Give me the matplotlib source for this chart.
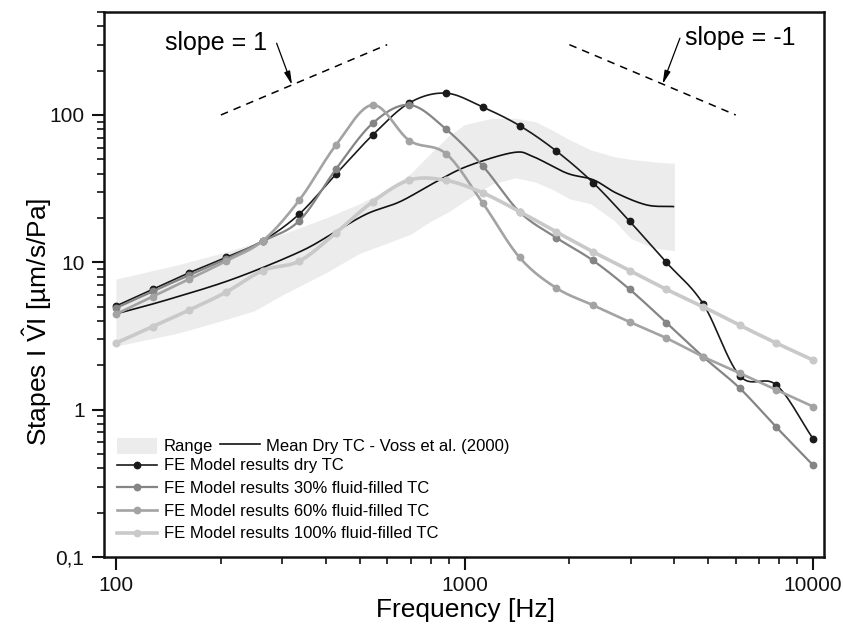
import numpy as np
import matplotlib
matplotlib.use("Agg")
import matplotlib.pyplot as plt
from matplotlib.lines import Line2D
from matplotlib.patches import Patch
from matplotlib.ticker import LogLocator, NullFormatter, FixedLocator, FixedFormatter

plt.rcParams['font.family'] = ['Liberation Sans', 'DejaVu Sans']
plt.rcParams['mathtext.fontset'] = 'custom'
plt.rcParams['mathtext.rm'] = 'Liberation Sans'

# ---------------- data ----------------
freq = [100, 127.4, 162.4, 206.9, 263.7, 336.0, 428.1, 545.6, 695.2, 885.9,
        1128.8, 1438.4, 1832.9, 2335.7, 2976.4, 3792.7, 4832.9, 6158.5, 7847.6, 10000]

dry = [5.05, 6.56, 8.5, 10.8, 14.0, 21.3, 39.8, 73.3, 121, 140.6,
       113, 84.7, 57, 34.8, 19.0, 10.0, 5.25, 1.70, 1.47, 0.635]
fluid30 = [4.9, 6.35, 8.2, 10.5, 13.9, 19.2, 43, 88, 117, 80,
           45, 22, 14.7, 10.3, 6.56, 3.90, 2.29, 1.40, 0.76, 0.42]
fluid60 = [4.45, 5.85, 7.7, 10.2, 14.0, 26.5, 62.7, 117, 67, 54.5,
           25.2, 10.8, 6.7, 5.12, 3.94, 3.06, 2.29, 1.77, 1.36, 1.05]
fluid100 = [2.83, 3.66, 4.75, 6.27, 8.79, 10.2, 15.9, 25.8, 36.2, 36.0,
            29.6, 22.1, 16.1, 11.8, 8.8, 6.56, 5.0, 3.74, 2.83, 2.17]

mean_freq = [100, 140, 217, 337, 420, 524, 653, 814, 1014, 1380, 1573,
             1965, 2343, 2735, 3335, 3975]
mean_voss = [4.47, 5.56, 7.71, 11.8, 15.8, 21.3, 25.8, 34.4, 44.7, 55.6, 52.2,
             40.3, 36.3, 29.4, 24.5, 23.9]

band_freq = [100, 150, 200, 250, 300, 400, 500, 600, 700, 800, 900, 1000,
             1200, 1400, 1600, 1800, 2000, 2300, 2700, 3000, 3500, 4000]
band_lower = [2.7, 3.3, 4.0, 4.7, 6.0, 8.5, 11.5, 13.5, 15.5, 19, 22, 26,
              34, 37.5, 35, 31, 27, 25, 19, 14.5, 12.5, 12]
band_upper = [7.7, 9.6, 11.5, 13.5, 15.5, 20, 25, 31, 40, 55, 72, 86,
              95, 95, 90, 78, 68, 58, 52, 50, 48, 47]

slope_pos = [(200, 100), (600, 300)]
slope_neg = [(2000, 300), (6000, 100)]

x_ticks = [100, 1000, 10000]
x_tick_labels = ['100', '1000', '10000']
y_ticks = [0.1, 1, 10, 100]
y_tick_labels = ['0,1', '1', '10', '100']


def smooth(xs, ys, n=24):
    """Catmull-Rom curve drawn through the data points in log-log space."""
    P = np.column_stack([np.log10(xs), np.log10(ys)])
    P = np.vstack([2 * P[0] - P[1], P, 2 * P[-1] - P[-2]])
    out = []
    t = np.linspace(0, 1, n, endpoint=False)[:, None]
    for i in range(1, len(P) - 2):
        p0, p1, p2, p3 = P[i - 1], P[i], P[i + 1], P[i + 2]
        seg = 0.5 * (2 * p1 + (-p0 + p2) * t + (2 * p0 - 5 * p1 + 4 * p2 - p3) * t ** 2
                     + (-p0 + 3 * p1 - 3 * p2 + p3) * t ** 3)
        out.append(seg)
    out.append(P[-2][None, :])
    pts = 10 ** np.vstack(out)
    return pts[:, 0], pts[:, 1]


W, H = 843, 634
fig = plt.figure(figsize=(W / 100, H / 100), dpi=100)
ax = fig.add_axes([104 / W, 1 - 557 / H, 720 / W, 545 / H])
ax.set_xscale('log')
ax.set_yscale('log')

# range band
ax.fill_between(band_freq, band_lower, band_upper, color='#ececec', lw=0, zorder=1)

# mean Voss
mx, my = smooth(mean_freq, mean_voss)
ax.plot(mx, my, color='#111111', lw=1.2, zorder=2)

series = [
    (dry, '#1a1a1a', 1.2, 4.6),
    (fluid30, '#858585', 1.6, 4.6),
    (fluid60, '#a3a3a3', 1.9, 4.6),
    (fluid100, '#c9c9c9', 2.6, 4.8),
]
for i, (vals, col, lw, ms) in enumerate(series):
    sx, sy = smooth(freq, vals)
    ax.plot(sx, sy, color=col, lw=lw, zorder=3 + i, solid_capstyle='round')
    ax.plot(freq, vals, ls='none', marker='o', ms=ms, color=col, mec=col, zorder=3 + i)

# slope guide lines
for seg in (slope_pos, slope_neg):
    ax.plot([seg[0][0], seg[1][0]], [seg[0][1], seg[1][1]], color='black',
            lw=1.1, ls=(0, (5, 4)), zorder=2)

arrow = dict(arrowstyle='-|>,head_length=0.8,head_width=0.18', color='black', lw=0.9,
             shrinkA=0, shrinkB=0)
ax.annotate('', xy=(320, 160), xytext=(289, 307), arrowprops=arrow)
ax.annotate('', xy=(3700, 162), xytext=(4150, 332), arrowprops=arrow)
ax.text(138, 308, 'slope = 1', fontsize=18, ha='left', va='center')
ax.text(4295, 334, 'slope = -1', fontsize=18, ha='left', va='center')

ax.set_xlim(92.4, 10750)
ax.set_ylim(0.1, 500)

ax.xaxis.set_major_locator(FixedLocator(x_ticks))
ax.xaxis.set_major_formatter(FixedFormatter(x_tick_labels))
ax.yaxis.set_major_locator(FixedLocator(y_ticks))
ax.yaxis.set_major_formatter(FixedFormatter(y_tick_labels))
ax.xaxis.set_minor_locator(LogLocator(base=10, subs=np.arange(2, 10)))
ax.yaxis.set_minor_locator(LogLocator(base=10, subs=np.arange(2, 10)))
ax.xaxis.set_minor_formatter(NullFormatter())
ax.yaxis.set_minor_formatter(NullFormatter())
ax.tick_params(which='major', direction='out', length=9, width=1.5, labelsize=15, pad=5,
               colors='#111111')
ax.tick_params(which='minor', direction='out', length=5, width=1.2, colors='#111111')
for sp in ax.spines.values():
    sp.set_linewidth(1.8)
    sp.set_color('#111111')

fig.text(465 / W, 1 - 610 / H, 'Frequency [Hz]', fontsize=19, ha='center', va='center')
fig.text(37 / W, 1 - 322 / H, r'Stapes I $\hat{\mathrm{V}}$I [µm/s/Pa]', fontsize=19,
         ha='center', va='center', rotation=90)

# legends
h_range = Patch(facecolor='#ececec', edgecolor='none')
h_mean = Line2D([], [], color='#111111', lw=1.2)
leg1 = ax.legend([h_range, h_mean], ['Range', 'Mean Dry TC - Voss et al. (2000)'],
                 ncol=2, loc='upper left', bbox_to_anchor=(0.018, 0.219), frameon=False,
                 fontsize=12, handlelength=2.4, handletextpad=0.4, columnspacing=0.4,
                 borderpad=0, borderaxespad=0, handleheight=1.1)
ax.add_artist(leg1)
labels = ['FE Model results dry TC', 'FE Model results 30% fluid-filled TC',
          'FE Model results 60% fluid-filled TC', 'FE Model results 100% fluid-filled TC']
hs = [Line2D([], [], color=c, lw=lw, marker='o', ms=4.6) for (_, c, lw, _) in series]
ax.legend(hs, labels, loc='upper left', bbox_to_anchor=(0.018, 0.181), frameon=False,
          fontsize=12, handlelength=2.4, handletextpad=0.4, labelspacing=0.46,
          borderpad=0, borderaxespad=0)

fig.savefig('out.png', dpi=100)
